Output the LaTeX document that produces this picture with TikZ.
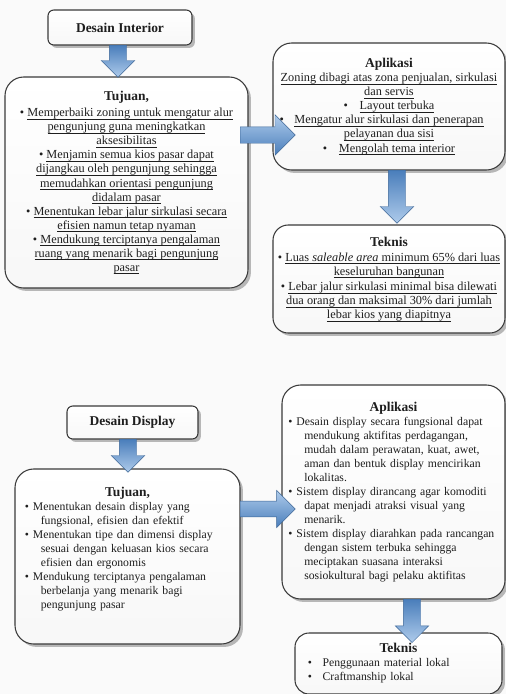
\documentclass[tikz,border=0pt]{standalone}
\usepackage{fontspec}
\setmainfont{Liberation Serif}
\usepackage{xcolor}
\usetikzlibrary{shapes.arrows,shadows,positioning}
\definecolor{arrowlight}{HTML}{AECBEB}
\definecolor{arrowdark}{HTML}{4A7EBB}
\definecolor{boxline}{HTML}{3A3A3A}
\definecolor{inktext}{HTML}{1E1E1E}
\definecolor{paper}{HTML}{FAFAFA}

\newsavebox\ulinebox
\newcommand{\ulx}[1]{\sbox\ulinebox{#1}\rlap{\rule[-2.2pt]{\wd\ulinebox}{0.5pt}}\usebox\ulinebox}
\newcommand{\bodyA}{\fontsize{10.5}{12}\selectfont}
\newcommand{\bodyB}{\fontsize{10}{12}\selectfont}
\newcommand{\headfont}{\fontsize{11.5}{14}\selectfont\bfseries}
\newcommand{\itm}{\par\noindent\hangindent=13.5pt\hangafter=1\textbullet\ }
\newcommand{\listhead}[1]{{\centering\noindent\headfont #1\par}}

\begin{document}
\begin{tikzpicture}[x=0.03cm, y=-0.03cm,
    panel/.style={rectangle, rounded corners=16pt, draw=boxline, line width=0.9pt, top color=white, bottom color=black!3, drop shadow={shadow xshift=2.5pt, shadow yshift=-2.5pt, fill=black!60, opacity=0.45}, text=inktext, inner sep=0pt},
    titlebox/.style={panel, rounded corners=5pt, font=\headfont},
    centerlist/.style={panel, align=center, font=\bodyA},
    leftlist/.style={panel, align=left, font=\bodyB},
    downarrow/.style={single arrow, rotate=-90, draw=arrowdark!80!black, line width=0.4pt, top color=arrowdark, bottom color=arrowlight, inner xsep=0pt, inner ysep=0.255cm, single arrow head extend=0.24cm, anchor=tail},
    rightarrow/.style={single arrow, draw=arrowdark!80!black, line width=0.4pt, top color=arrowlight, bottom color=arrowdark, inner xsep=0pt, inner ysep=0.24cm, single arrow head extend=0.36cm, anchor=tail}
]
    \useasboundingbox (0,0) rectangle (506,694);
    \fill[paper] (0,0) rectangle (506,694);

    % Desain Interior
    \node[titlebox, minimum width=4.32cm, minimum height=1.05cm] (interior) at (120,27.5) {Desain Interior};
    \node[centerlist, minimum width=7.29cm, minimum height=6.33cm] (tujuanA) at (126.5,182.5) {%
        {\headfont Tujuan,}\\[2pt]
        \textbullet\ \ulx{Memperbaiki zoning untuk mengatur alur}\\
        \ulx{pengunjung guna meningkatkan}\\
        \ulx{aksesibilitas}\\
        \textbullet\ \ulx{Menjamin semua kios pasar dapat}\\
        \ulx{dijangkau oleh pengunjung sehingga}\\
        \ulx{memudahkan orientasi pengunjung}\\
        \ulx{didalam pasar}\\
        \textbullet\ \ulx{Menentukan lebar jalur sirkulasi secara}\\
        \ulx{efisien namun tetap nyaman}\\
        \textbullet\ \ulx{Mendukung terciptanya pengalaman}\\
        \ulx{ruang yang menarik bagi pengunjung}\\
        \ulx{pasar}};
    \node[centerlist, minimum width=6.96cm, minimum height=3.81cm] (aplikasiA) at (389,106.5) {%
        {\headfont Aplikasi}\\
        \ulx{Zoning dibagi atas zona penjualan, sirkulasi}\\
        \ulx{dan servis}\\
        \textbullet\hspace{10pt}\ulx{Layout terbuka}\\
        \llap{\textbullet\hspace{9pt}}\ulx{Mengatur alur sirkulasi dan penerapan}\\
        \ulx{pelayanan dua sisi}\\
        \textbullet\hspace{10pt}\ulx{Mengolah tema interior}};
    \node[centerlist, rounded corners=13pt, minimum width=6.96cm, minimum height=3.24cm] (teknisA) at (389,279) {%
        {\headfont Teknis}\\[1pt]
        \textbullet\ \ulx{Luas \textit{saleable area} minimum 65\% dari luas}\\
        \ulx{keseluruhan bangunan}\\[1pt]
        \textbullet\ \ulx{Lebar jalur sirkulasi minimal bisa dilewati}\\
        \ulx{dua orang dan maksimal 30\% dari jumlah}\\
        \ulx{lebar kios yang diapitnya}};

    \node[downarrow, minimum height=0.96cm] (arrA1) at (118,45) {};
    \node[rightarrow, minimum height=1.65cm] (arrA2) at (240,135) {};
    \node[downarrow, minimum height=1.59cm] (arrA3) at (397,170) {};

    % Desain Display
    \node[titlebox, minimum width=3.93cm, minimum height=0.99cm] (display) at (132.5,422.5) {Desain Display};
    \node[leftlist, text width=6.15cm, minimum width=6.75cm, minimum height=5.25cm] (tujuanB) at (127.5,556.5) {%
        \listhead{Tujuan,}
        \itm Menentukan desain display yang\newline fungsional, efisien dan efektif
        \itm Menentukan tipe dan dimensi display\newline sesuai dengan keluasan kios secara\newline efisien dan ergonomis
        \itm Mendukung terciptanya pengalaman\newline berbelanja yang menarik bagi\newline pengunjung pasar\rule[-15pt]{0pt}{0pt}\par};
    \node[leftlist, text width=6.3cm, minimum width=6.69cm, minimum height=6.42cm] (aplikasiB) at (393.5,492) {%
        \listhead{Aplikasi}
        \itm Desain display secara fungsional dapat\newline mendukung aktifitas perdagangan,\newline mudah dalam perawatan, kuat, awet,\newline aman dan bentuk display mencirikan\newline lokalitas.
        \itm Sistem display dirancang agar komoditi\newline dapat menjadi atraksi visual yang\newline menarik.
        \itm Sistem display diarahkan pada rancangan\newline dengan sistem terbuka sehingga\newline meciptakan suasana interaksi\newline sosiokultural bagi pelaku aktifitas\par};
    \node[leftlist, rounded corners=12pt, text width=5.43cm, minimum width=6.21cm, minimum height=1.83cm] (teknisB) at (398.5,663.5) {%
        \listhead{Teknis}
        \noindent\textbullet\hspace{9pt}Penggunaan material lokal\par
        \noindent\textbullet\hspace{9pt}Craftmanship lokal\par};

    \node[downarrow, minimum height=0.99cm] (arrB1) at (128,439) {};
    \node[rightarrow, minimum height=1.65cm, inner ysep=0.23cm, single arrow head extend=0.32cm] (arrB2) at (240,509) {};
    \node[downarrow, minimum height=1.3cm] (arrB3) at (412,599) {};
\end{tikzpicture}
\end{document}
